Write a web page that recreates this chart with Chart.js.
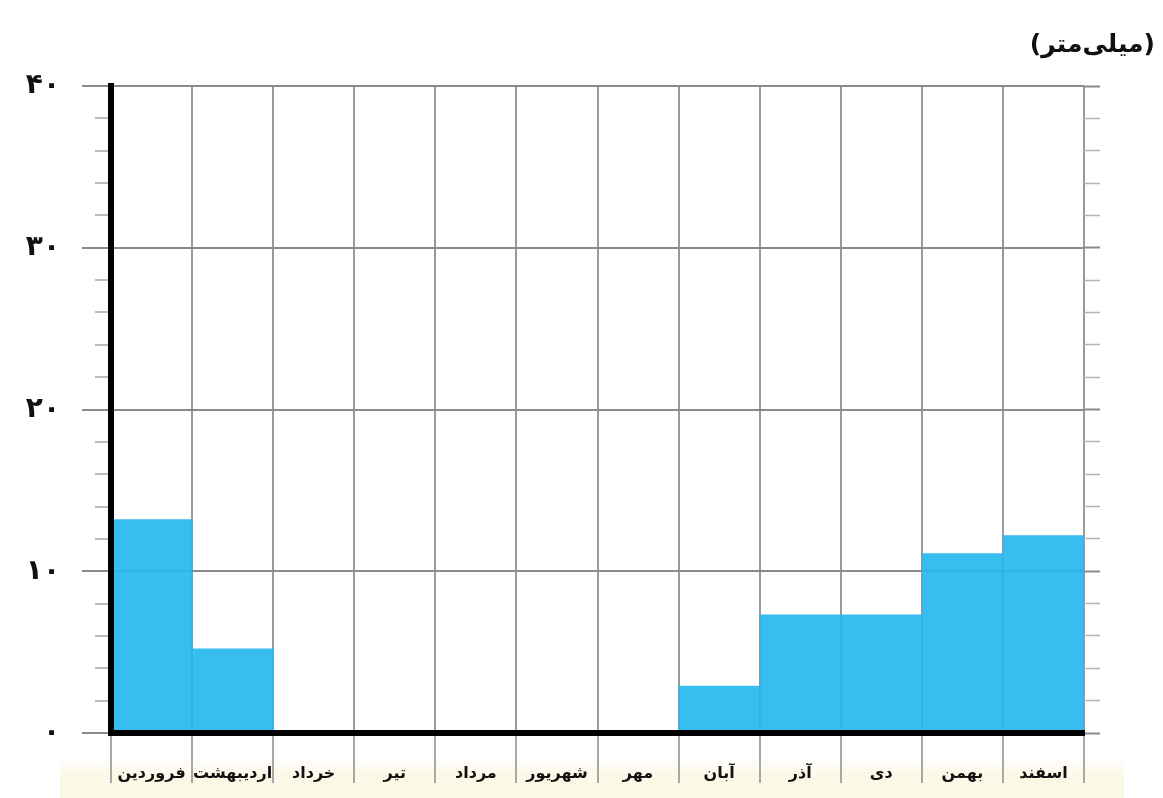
<!DOCTYPE html>
<html lang="fa">
<head>
<meta charset="UTF-8">
<title>بارش ماهانه</title>
<script src="https://cdn.jsdelivr.net/npm/chart.js"></script>
<style>
  html, body { margin: 0; padding: 0; background: #fff; }
  #wrap { width: 1163px; height: 798px; }
</style>
</head>
<body>
<div id="wrap"><canvas id="rainChart"></canvas></div>
<script>
  // monthly rainfall (mm)
  const months = ['فروردین', 'اردیبهشت', 'خرداد', 'تیر', 'مرداد', 'شهریور', 'مهر', 'آبان', 'آذر', 'دی', 'بهمن', 'اسفند'];
  const rainfall = [13.2, 5.2, 0, 0, 0, 0, 0, 2.9, 7.3, 7.3, 11.1, 12.2];
  const yTickLabels = { 0: '۰', 10: '۱۰', 20: '۲۰', 30: '۳۰', 40: '۴۰' };
  const unitLabel = '(میلی‌متر)';

  const gridGray = '#8a8a8a';
  const isMajor = v => v % 10 === 0;

  // white page with a faint cream band behind the month names
  const paperPlugin = {
    id: 'paper',
    beforeDraw(chart) {
      const c = chart.ctx, x = chart.scales.x;
      c.save();
      c.fillStyle = '#ffffff';
      c.fillRect(0, 0, chart.width, chart.height);
      const g = c.createLinearGradient(0, x.top + 22, 0, chart.height);
      g.addColorStop(0, 'rgba(252,248,232,0)');
      g.addColorStop(0.5, 'rgba(252,248,230,1)');
      c.fillStyle = g;
      c.fillRect(60, x.top + 22, chart.chartArea.right - 20, chart.height - x.top - 22);
      c.restore();
    }
  };

  var ctx = document.getElementById('rainChart').getContext('2d');
  var rainChart = new Chart(ctx, {
    type: 'bar',
    data: {
      labels: months,
      datasets: [{
        data: rainfall,
        backgroundColor: 'rgba(38, 183, 238, 0.92)',
        borderWidth: 0,
        barPercentage: 1,
        categoryPercentage: 1
      }]
    },
    options: {
      responsive: true,
      maintainAspectRatio: false,
      animation: false,
      layout: { padding: { left: 0, right: 8, top: 0, bottom: 0 } },
      plugins: {
        legend: { display: false },
        tooltip: { enabled: false },
        title: {
          display: true,
          text: unitLabel,
          align: 'end',
          color: '#111',
          font: { family: 'DejaVu Sans', size: 25, weight: 'bold' },
          padding: { top: 30, bottom: 26 }
        }
      },
      scales: {
        x: {
          offset: true,
          grid: {
            offset: true,
            color: '#9a9a9a',
            lineWidth: 2,
            tickLength: 50,
            tickColor: '#a8a8a8',
            tickWidth: 2
          },
          border: { display: true, color: '#000', width: 6, z: 1 },
          ticks: {
            color: '#111',
            padding: -19,
            maxRotation: 0,
            autoSkip: false,
            font: { family: 'DejaVu Sans', size: 16, weight: 'bold' }
          },
          afterFit(scale) { scale.height = 65; }
        },
        y: {
          min: 0,
          max: 40,
          grid: {
            color: c => isMajor(c.tick.value) ? gridGray : 'rgba(0,0,0,0)',
            lineWidth: 2,
            tickLength: 29,
            tickColor: c => isMajor(c.tick.value) ? gridGray : '#a6a6a6',
            tickWidth: c => isMajor(c.tick.value) ? 2 : 1.5,
            tickBorderDash: c => isMajor(c.tick.value) ? [] : [13, 13],
            tickBorderDashOffset: c => isMajor(c.tick.value) ? 0 : 13
          },
          border: { display: true, color: '#000', width: 6, z: 1 },
          ticks: {
            stepSize: 2,
            autoSkip: false,
            padding: 22,
            color: '#111',
            font: { family: 'DejaVu Sans', size: 28, weight: 'bold' },
            callback: v => isMajor(v) ? yTickLabels[v] : ''
          },
          afterFit(scale) { scale.width = 111; }
        },
        y2: {
          position: 'right',
          min: 0,
          max: 40,
          grid: {
            drawOnChartArea: false,
            tickLength: 16,
            tickColor: c => isMajor(c.tick.value) ? gridGray : '#b4b4b4',
            tickWidth: c => isMajor(c.tick.value) ? 2 : 1.5
          },
          border: { display: false },
          ticks: { stepSize: 2, autoSkip: false, display: false },
          afterFit(scale) { scale.width = 71; }
        }
      }
    },
    plugins: [paperPlugin]
  });
</script>
</body>
</html>
